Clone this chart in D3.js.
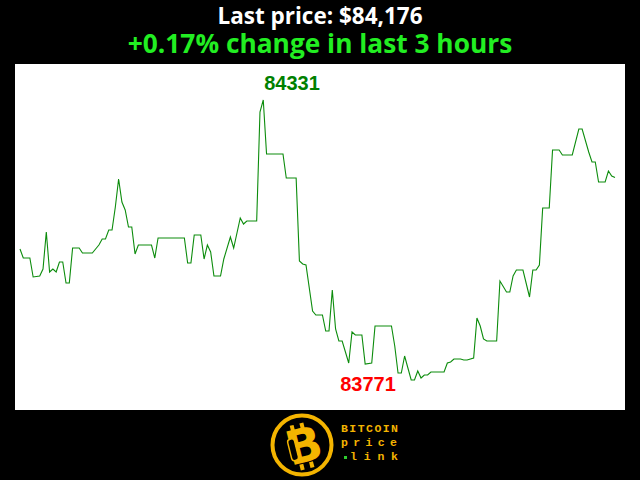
<!DOCTYPE html>
<html>
<head>
<meta charset="utf-8">
<script src="https://cdn.jsdelivr.net/npm/d3@7"></script>
<style>
html,body{margin:0;padding:0;background:#000;}
svg{display:block;}
</style>
</head>
<body>
<script>
// ---- data ----
const titleText = "Last price: $84,176";
const subtitleText = "+0.17% change in last 3 hours";
const minutes = [0,1,3,4,6,7,8,9,10,11,12,13,14,15,16,18,19,22,23,24,25,26,27,28,29,30,31,32,33,34,35,36,40,41,42,50,51,52,53,55,56,57,58,59,61,62,64,65,67,68,69,72,73,74,75,80,81,84,85,86,87,89,90,92,93,94,95,96,97,98,100,101,102,104,105,107,108,113,114,115,116,117,118,119,120,121,122,123,124,125,129,130,131,132,134,135,136,138,139,140,141,142,145,146,148,149,150,151,153,155,156,157,158,159,161,162,164,165,168,170,171,173,174,175,176,178,179,180,181];
const prices = [84033,84015,84015,83977,83979,83993,84067,83987,83993,83987,84007,84007,83965,83965,84035,84035,84025,84025,84033,84041,84053,84053,84071,84071,84117,84173,84127,84111,84077,84077,84023,84041,84041,84015,84055,84055,84005,84005,84061,84061,84013,84041,84027,83979,83979,84013,84057,84035,84095,84083,84089,84089,84307,84331,84223,84223,84175,84175,84009,84003,84001,83909,83901,83901,83869,83869,83951,83873,83849,83849,83805,83867,83861,83861,83803,83805,83879,83879,83839,83785,83785,83819,83795,83771,83771,83789,83775,83781,83781,83787,83787,83805,83807,83813,83813,83811,83811,83815,83895,83879,83853,83849,83849,83969,83947,83947,83979,83991,83991,83937,83991,83991,84001,84115,84115,84231,84231,84221,84221,84273,84273,84227,84207,84207,84167,84167,84189,84179,84176];
const logoWords = ["BITCOIN","price","link"];

const W = 640, H = 480;
const svg = d3.select("body").append("svg").attr("width", W).attr("height", H);
svg.append("rect").attr("width", W).attr("height", H).attr("fill", "#000");

// titles
svg.append("text").attr("x", 320).attr("y", 24).attr("text-anchor", "middle")
  .attr("font-family", "'Open Sans', sans-serif").attr("font-weight", "bold")
  .attr("font-size", 22.5).attr("fill", "#fff").text(titleText);
svg.append("text").attr("x", 320).attr("y", 52.5).attr("text-anchor", "middle")
  .attr("font-family", "'Open Sans', sans-serif").attr("font-weight", "bold")
  .attr("font-size", 26.3).attr("fill", "#22ee22").text(subtitleText);

// plot area
const plot = {x0: 15, x1: 625, y0: 64, y1: 410};
svg.append("rect").attr("x", plot.x0).attr("y", plot.y0)
  .attr("width", plot.x1 - plot.x0).attr("height", plot.y1 - plot.y0).attr("fill", "#fff");

const data = minutes.map((m, i) => ({m, p: prices[i]}));
const x = d3.scaleLinear().domain([0, 181]).range([20, 615]);
const yMin = d3.min(prices), yMax = d3.max(prices);
const y = d3.scaleLinear().domain([yMin, yMax]).range([380, 100]);

svg.append("path").datum(data)
  .attr("fill", "none").attr("stroke", "#0c8c0c").attr("stroke-width", 1.1)
  .attr("d", d3.line().x(d => x(d.m)).y(d => y(d.p)));

const maxD = data.find(d => d.p === yMax);
const minD = data.find(d => d.p === yMin);
svg.append("text").attr("x", x(maxD.m) + 1).attr("y", y(maxD.p) - 10)
  .attr("font-family", "'Liberation Sans', Arial, sans-serif").attr("font-weight", "bold")
  .attr("font-size", 20).attr("fill", "#008000").text(yMax);
svg.append("text").attr("x", x(minD.m) - 71).attr("y", y(minD.p) + 11)
  .attr("font-family", "'Liberation Sans', Arial, sans-serif").attr("font-weight", "bold")
  .attr("font-size", 20).attr("fill", "#ff0000").text(yMin);

// logo
const gold = "#f4b400";
const lg = svg.append("g");
lg.append("circle").attr("cx", 302).attr("cy", 445).attr("r", 29.5)
  .attr("fill", "#000").attr("stroke", gold).attr("stroke-width", 4);
const bg = lg.append("g").attr("transform", "translate(304,446) rotate(-14)");
bg.append("text").attr("x", 0).attr("y", 16).attr("text-anchor", "middle")
  .attr("font-family", "'DejaVu Sans', sans-serif").attr("font-weight", "bold")
  .attr("font-size", 47).attr("fill", gold).text("B");
[-9, 1].forEach(dx => {
  bg.append("rect").attr("x", dx).attr("y", -23).attr("width", 4).attr("height", 6).attr("fill", gold);
  bg.append("rect").attr("x", dx).attr("y", 17).attr("width", 4).attr("height", 6).attr("fill", gold);
});
bg.append("rect").attr("x", -15).attr("y", -10).attr("width", 7).attr("height", 22).attr("rx", 3)
  .attr("fill", "#000").attr("stroke", gold).attr("stroke-width", 1.5);
logoWords.forEach((w, i) => {
  lg.append("text").attr("x", 341 + (i === 2 ? 9 : 0)).attr("y", 432 + i * 14)
    .attr("font-family", "'Liberation Mono', 'DejaVu Sans Mono', monospace").attr("font-weight", "bold")
    .attr("font-size", 11.5).attr("fill", gold)
    .attr("textLength", i === 0 ? 57 : (i === 1 ? 56 : 48))
    .text(w);
});
lg.append("rect").attr("x", 344).attr("y", 456).attr("width", 3).attr("height", 3).attr("fill", "#2ecc2e");
</script>
</body>
</html>
